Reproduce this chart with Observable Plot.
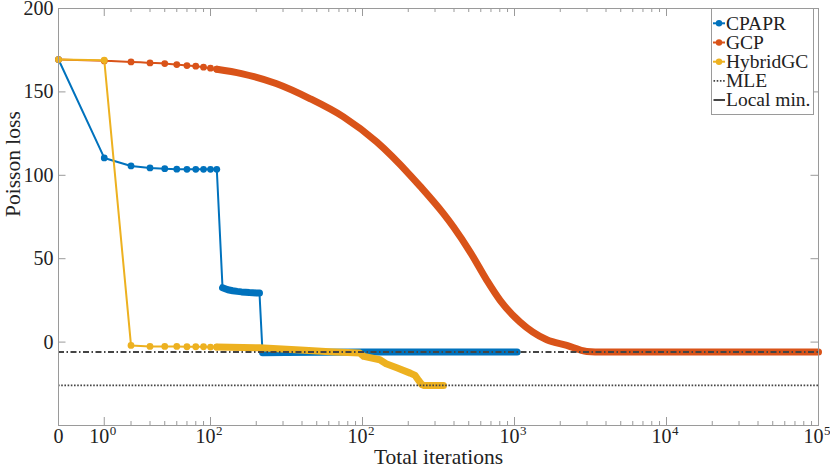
<!DOCTYPE html>
<html><head><meta charset="utf-8">
<script src="https://cdn.jsdelivr.net/npm/d3@7"></script>
<script src="https://cdn.jsdelivr.net/npm/@observablehq/plot@0.6"></script>
<style>body{margin:0;background:#fff}#chart{width:830px;height:473px}</style>
</head><body><div id="chart"></div>
<script>
// ---- data ----
const cpaprIter = [0,1,2,3,4,5,6,7,8,9,10,11,12,13,14,15,16,17,18,19,20,21,30,100,1040];
const cpaprLoss = [169.4,110.4,105.6,104.4,104.0,103.7,103.6,103.6,103.6,103.6,103.6,32.6,31.4,30.8,30.4,30.1,29.9,29.7,29.6,29.5,29.4,-6.4,-6.2,-6.0,-6.0];
const gcpIter = [0,1,2,3,4,5,6,7,8,9,10,15,26,44,74,123,205,238,340,396,510,657,803,1088,1630,2207,2987,3844,10000,99999];
const gcpLoss = [169.4,168.6,168.0,167.4,167.0,166.4,165.8,165.4,164.8,164.2,163.6,161.0,155.0,146.0,135.0,120.0,100.0,93.5,77.0,69.0,54.0,37.0,25.0,12.0,1.4,-2.0,-5.6,-6.0,-6.0,-6.0];
const hybridIter = [0,1,2,3,4,5,6,7,8,9,10,20,38,60,95,101,129,142,167,205,221,233,244,253,340];
const hybridLoss = [169.4,169.0,-2.0,-2.6,-2.6,-2.6,-2.8,-2.8,-2.8,-3.0,-3.0,-3.4,-4.8,-5.8,-6.6,-8.6,-10.6,-13.0,-15.4,-18.6,-20.0,-23.0,-25.4,-26.0,-26.0];
const mleLoss = -26.0;
const localMinLoss = -6.0;

const seriesNames = ["CPAPR","GCP","HybridGC"];
const seriesColors = ["#0072BD","#D95319","#EDB120"];
const legendLabels = ["CPAPR","GCP","HybridGC","MLE","Local min."];

const xMajorTicks = [0,1,9,99,999,9999,99999];
const xTickLabels = ["0","10^0","10^2","10^2","10^3","10^4","10^5"];
const xMinorTicks = [3,4,5,6,7,8,9,20,30,40,50,60,70,80,90,200,300,400,500,600,700,800,900,
  2000,3000,4000,5000,6000,7000,8000,9000,20000,30000,40000,50000,60000,70000,80000,90000].map(n => n - 1);
const yTicks = [0,50,100,150,200];
const xDomain = [0, 99999];
const yDomain = [-50, 200];

// ---- layout ----
const W = 830, H = 473, mL = 58, mR = 12, mT = 8, mB = 48;
const fw = W - mL - mR, fh = H - mT - mB;
const font = "'Liberation Serif','DejaVu Serif',serif";
const axisColor = "#9a9a9a", textColor = "#222";
const refColor = "#444";
const dashDot = "6,2.5,1.5,2.5";
const dotted = "1.6,1.6";

const series = [
  {iters: cpaprIter, losses: cpaprLoss, thickStart: 11, curve: "linear"},
  {iters: gcpIter, losses: gcpLoss, thickStart: 10, curve: "monotone-x"},
  {iters: hybridIter, losses: hybridLoss, thickStart: 10, curve: "linear"}
];

function rowsOf(s) { return s.iters.map((it, i) => ({iter: it, loss: s.losses[i]})); }
// markers merge into a band where iterations are dense; a single-step big jump stays a thin line
function thickRows(s) {
  const out = []; let seg = 0;
  s.iters.forEach((it, i) => {
    if (it < s.thickStart) return;
    const prev = out[out.length - 1];
    if (prev && it - prev.iter === 1 && Math.abs(s.losses[i] - prev.loss) > 15) seg++;
    out.push({iter: it, loss: s.losses[i], seg});
  });
  return out;
}

const marks = [];
// ticks (inward), bottom/top/left/right
marks.push(Plot.ruleX(xMajorTicks, {x: d => d, stroke: axisColor, insetTop: fh - 8}));
marks.push(Plot.ruleX(xMajorTicks, {x: d => d, stroke: axisColor, insetBottom: fh - 8}));
marks.push(Plot.ruleX(xMinorTicks, {x: d => d, stroke: axisColor, insetTop: fh - 4}));
marks.push(Plot.ruleX(xMinorTicks, {x: d => d, stroke: axisColor, insetBottom: fh - 4}));
marks.push(Plot.ruleY(yTicks, {y: d => d, stroke: axisColor, insetRight: fw - 7.5}));
marks.push(Plot.ruleY(yTicks, {y: d => d, stroke: axisColor, insetLeft: fw - 7.5}));

series.forEach((s, k) => {
  const c = seriesColors[k];
  const rows = rowsOf(s);
  marks.push(Plot.line(rows, {x: "iter", y: "loss", stroke: c, strokeWidth: 2, strokeLinejoin: "round", curve: s.curve}));
  marks.push(Plot.line(thickRows(s), {x: "iter", y: "loss", z: "seg", stroke: c, strokeWidth: 7,
    strokeLinecap: "round", strokeLinejoin: "round", curve: s.curve}));
  marks.push(Plot.dot(rows.filter(d => d.iter <= 10), {x: "iter", y: "loss", r: 3.4, fill: c, stroke: "none"}));
});

marks.push(Plot.ruleY([mleLoss], {y: d => d, stroke: refColor, strokeWidth: 1.7, strokeDasharray: dotted}));
marks.push(Plot.ruleY([localMinLoss], {y: d => d, stroke: refColor, strokeWidth: 2, strokeDasharray: dashDot}));
marks.push(Plot.frame({stroke: axisColor, strokeWidth: 1}));

// tick labels
marks.push(Plot.text(yTicks, {y: d => d, text: d => String(d), frameAnchor: "left", dx: -5,
  textAnchor: "end", fontSize: 20, fill: textColor}));
const xLab = xMajorTicks.map((t, i) => {
  const [base, exp] = xTickLabels[i].split("^");
  return {t, base, exp: exp || ""};
});
marks.push(Plot.text(xLab.filter(d => !d.exp), {x: "t", text: "base", frameAnchor: "bottom", dy: 17,
  textAnchor: "middle", fontSize: 20, fill: textColor}));
marks.push(Plot.text(xLab.filter(d => d.exp), {x: "t", text: "base", frameAnchor: "bottom", dy: 17, dx: 5,
  textAnchor: "end", fontSize: 20, fill: textColor}));
marks.push(Plot.text(xLab.filter(d => d.exp), {x: "t", text: "exp", frameAnchor: "bottom", dy: 9, dx: 5.5,
  textAnchor: "start", fontSize: 13, fill: textColor}));
// axis titles
marks.push(Plot.text(["Total iterations"], {text: d => d, frameAnchor: "bottom", dy: 38, fontSize: 21.5, fill: textColor}));
marks.push(Plot.text(["Poisson loss"], {text: d => d, frameAnchor: "left", dx: -45, rotate: -90, fontSize: 21.5, fill: textColor}));

const chart = Plot.plot({
  width: W, height: H, marginLeft: mL, marginRight: mR, marginTop: mT, marginBottom: mB,
  style: {fontFamily: font, background: "white", overflow: "visible"},
  x: {type: "symlog", domain: xDomain, axis: null},
  y: {domain: yDomain, axis: null},
  marks
});
document.getElementById("chart").appendChild(chart);

// legend (inside top-right of axes)
const svg = d3.select(chart);
const lg = svg.append("g").attr("text-anchor", "start");
const lx = 711.5, ly = 8.5, lw = 102, lh = 106, rowH = 19.2, row0 = 23.3;
lg.append("rect").attr("x", lx).attr("y", ly).attr("width", lw).attr("height", lh)
  .attr("fill", "white").attr("stroke", axisColor);
legendLabels.forEach((lab, i) => {
  const y = row0 + i * rowH;
  const g = lg.append("g");
  if (i < 3) {
    g.append("line").attr("x1", lx + 1.5).attr("x2", lx + 13.5).attr("y1", y).attr("y2", y)
      .attr("stroke", seriesColors[i]).attr("stroke-width", 2);
    g.append("circle").attr("cx", lx + 7.5).attr("cy", y).attr("r", 3.2).attr("fill", seriesColors[i]);
  } else {
    g.append("line").attr("x1", lx + 2).attr("x2", lx + 13.5).attr("y1", y).attr("y2", y)
      .attr("stroke", refColor).attr("stroke-width", i === 3 ? 1.7 : 2)
      .attr("stroke-dasharray", i === 3 ? dotted : "10,0");
  }
  g.append("text").attr("x", lx + 14.5).attr("y", y + 6.2).attr("font-size", 19.5)
    .attr("font-family", font).attr("fill", textColor).attr("text-anchor", "start").text(lab);
});
</script></body></html>
